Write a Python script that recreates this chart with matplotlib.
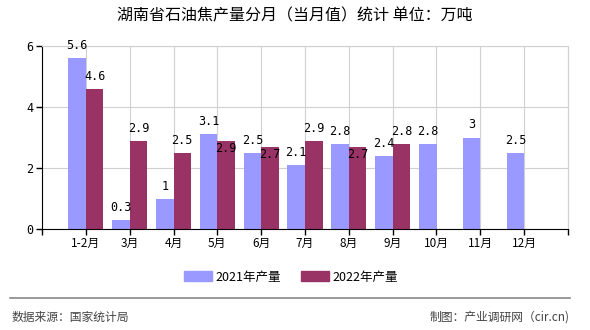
import matplotlib
matplotlib.use('Agg')
import matplotlib.pyplot as plt
from matplotlib.patches import Patch

plt.rcParams['font.family'] = ['Noto Sans CJK SC', 'DejaVu Sans']

months = ['1-2月', '3月', '4月', '5月', '6月', '7月', '8月', '9月', '10月', '11月', '12月']
v2021 = [5.6, 0.3, 1, 3.1, 2.5, 2.1, 2.8, 2.4, 2.8, 3, 2.5]
v2022 = [4.6, 2.9, 2.5, 2.9, 2.7, 2.9, 2.7, 2.8]
lab2021 = ['5.6', '0.3', '1', '3.1', '2.5', '2.1', '2.8', '2.4', '2.8', '3', '2.5']
lab2022 = ['4.6', '2.9', '2.5', '2.9', '2.7', '2.9', '2.7', '2.8']

c1 = '#9999ff'
c2 = '#993366'

fig = plt.figure(figsize=(5.9, 3.3), dpi=100)
ax = fig.add_axes([42 / 590, 1 - 229 / 330, 526 / 590, 183 / 330])

x1 = [i + 1 - 0.2 for i in range(len(v2021))]
x2 = [i + 1 + 0.2 for i in range(len(v2022))]
ax.bar(x1, v2021, width=0.4, color=c1, zorder=2)
ax.bar(x2, v2022, width=0.4, color=c2, zorder=2)

# labels pushed under the bar top where they would collide with the neighbour
down2022 = [False, False, False, True, True, False, True, False]
mono = 'DejaVu Sans Mono'
for x, v, t in zip(x1, v2021, lab2021):
    ax.annotate(t, (x, v), xytext=(0, 9), textcoords='offset points',
                ha='center', va='center', fontsize=8.5, family=mono, zorder=3)
for x, v, t, d in zip(x2, v2022, lab2022, down2022):
    ax.annotate(t, (x, v), xytext=(0, -6 if d else 9), textcoords='offset points',
                ha='center', va='center', fontsize=8.5, family=mono, zorder=3)

ax.set_xlim(0, 12)
ax.set_ylim(0, 6)
ax.set_xticks(range(0, 13))
ax.set_xticklabels([''] + months + [''], fontsize=8.5)
ax.set_yticks([0, 2, 4, 6])
ax.set_yticklabels(['0', '2', '4', '6'], fontsize=8.5, family=mono)
ax.grid(True, color='#d0d0d0', linewidth=0.8, zorder=0)
ax.tick_params(length=4, width=1, color='black', pad=2)
ax.spines['left'].set_color('black')
ax.spines['bottom'].set_color('black')
ax.spines['top'].set_color('#d0d0d0')
ax.spines['right'].set_color('#d0d0d0')

fig.text(0.5, 1 - 16 / 330, '湖南省石油焦产量分月（当月值）统计 单位：万吨',
         ha='center', va='center', fontsize=11.5)

handles = [Patch(color=c1, label='2021年产量'), Patch(color=c2, label='2022年产量')]
fig.legend(handles=handles, loc='center', bbox_to_anchor=(291 / 590, 1 - 277 / 330),
           ncol=2, frameon=False, fontsize=9, handlelength=2.2, handleheight=0.8,
           handletextpad=0.3, columnspacing=1.6)

fig.add_artist(plt.Line2D([10 / 590, 570 / 590], [1 - 298 / 330, 1 - 298 / 330],
                          color='#888888', linewidth=1.2))
fig.text(12 / 590, 1 - 317 / 330, '数据来源：国家统计局', ha='left', va='center',
         fontsize=8.5, color='#444444')
fig.text(570 / 590, 1 - 317 / 330, '制图：产业调研网（cir.cn)', ha='right', va='center',
         fontsize=8.5, color='#444444')

fig.savefig('out.png', dpi=100)
